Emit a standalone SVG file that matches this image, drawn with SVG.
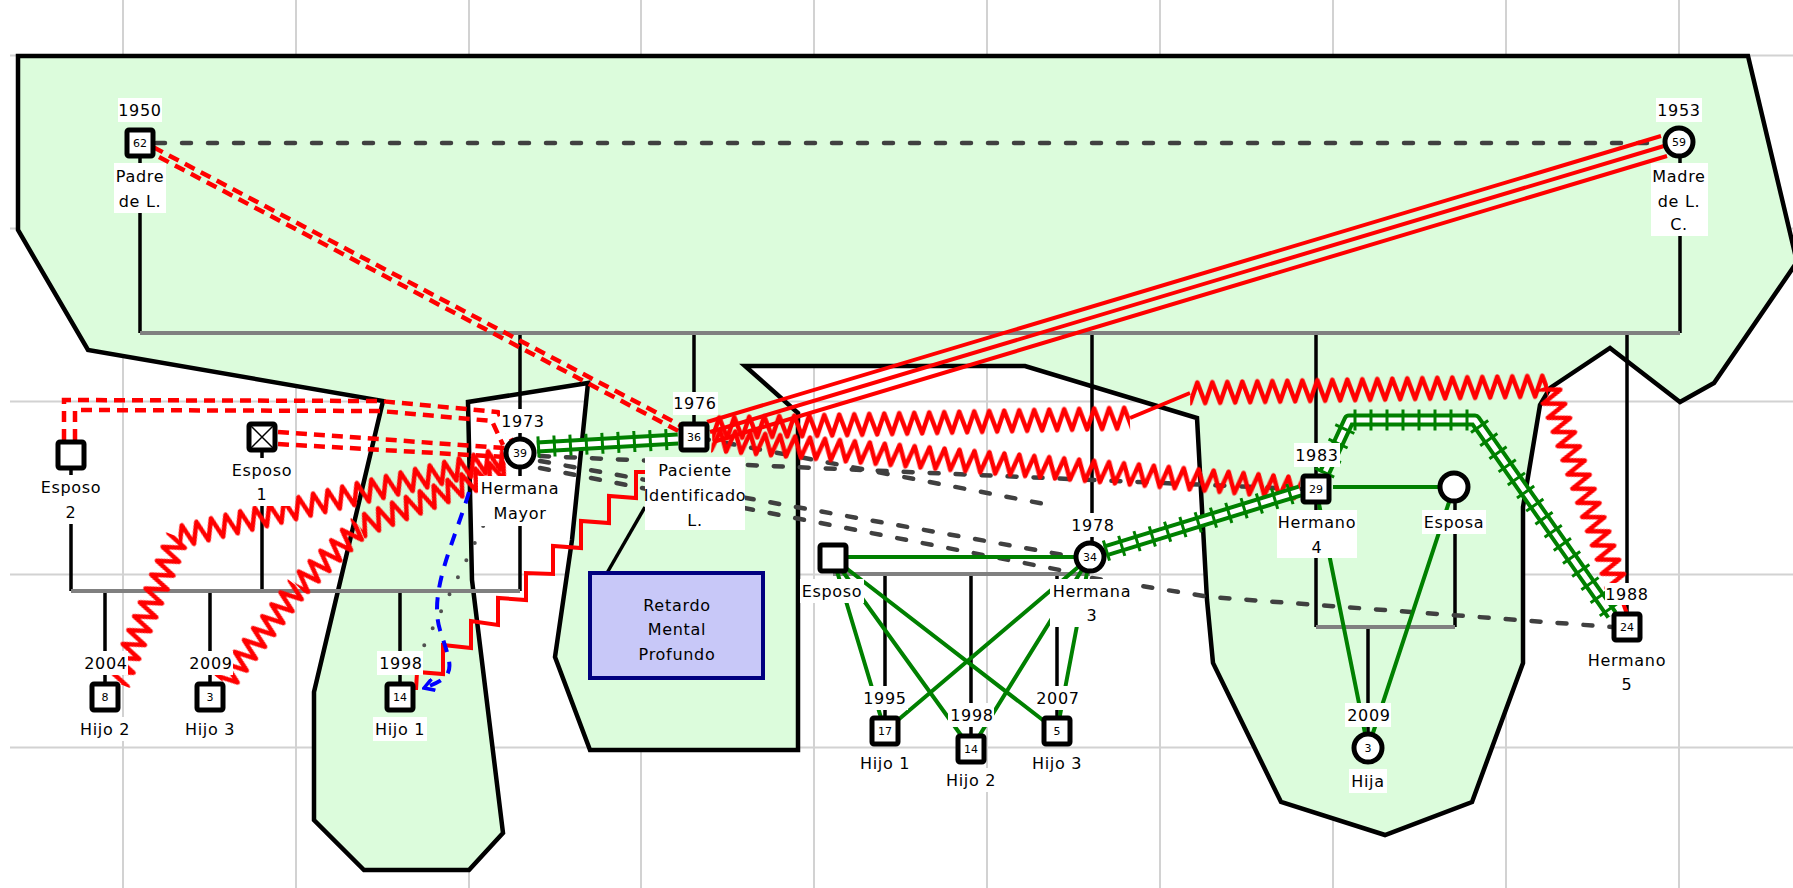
<svg xmlns="http://www.w3.org/2000/svg" width="1793" height="888" viewBox="0 0 1793 888">
<style>
.grid line{stroke:#d2d2d2;stroke-width:2}
.region{fill:#dcfcdc;stroke:#000;stroke-width:4.5;stroke-linejoin:miter}
.fam{stroke:#000;stroke-width:3.5;fill:none}
.sib{stroke:#808080;stroke-width:4;fill:none}
.gd{stroke:#404040;stroke-width:4.5;stroke-dasharray:9 17;stroke-linecap:round;fill:none}
.dot{stroke:#505050;stroke-width:4;stroke-dasharray:0 19;stroke-linecap:round;fill:none}
.rd{stroke:#f00;stroke-width:4.5;stroke-dasharray:11 7;fill:none}
.rs{stroke:#f00;stroke-width:4;fill:none}
.zz{fill:url(#zz)}
.gl{stroke:#008000;stroke-width:4;fill:none}
.g2{stroke:#008000;stroke-width:13;fill:none;stroke-linejoin:round}
.g2w{stroke:#fff;stroke-width:5;fill:none;stroke-linejoin:round}
.g2t{stroke:#008000;stroke-width:21;stroke-dasharray:3 13;fill:none}
.bl{stroke:#00f;stroke-width:4;stroke-dasharray:12 10;fill:none}
.sq,.ci{fill:#fff;stroke:#000;stroke-width:5}
.bg{fill:#fff}
.t{font-family:"DejaVu Sans",sans-serif;font-size:16px;letter-spacing:.7px;text-anchor:middle;fill:#000}
.a{font-family:"DejaVu Sans",sans-serif;font-size:11px;text-anchor:middle;fill:#000}
</style>
<defs>
<pattern id="zz" patternUnits="userSpaceOnUse" x="0" y="-14" width="15" height="28"><path d="M-7.5,3.5 L0,24.5 L7.5,3.5 L15,24.5 L22.5,3.5" fill="none" stroke="#f00" stroke-width="4.5" stroke-linejoin="round"/></pattern>
<marker id="arr" viewBox="0 0 14 14" markerWidth="14" markerHeight="14" refX="12" refY="7" orient="auto" markerUnits="userSpaceOnUse"><path d="M2,1 L12,7 L2,13" fill="none" stroke="#00f" stroke-width="3.5"/></marker>
</defs>
<rect width="1793" height="888" fill="#fff"/>
<g class="grid">
<line x1="123" y1="0" x2="123" y2="888"/><line x1="296" y1="0" x2="296" y2="888"/><line x1="469" y1="0" x2="469" y2="888"/><line x1="641" y1="0" x2="641" y2="888"/><line x1="814" y1="0" x2="814" y2="888"/><line x1="987" y1="0" x2="987" y2="888"/><line x1="1160" y1="0" x2="1160" y2="888"/><line x1="1333" y1="0" x2="1333" y2="888"/><line x1="1506" y1="0" x2="1506" y2="888"/><line x1="1679" y1="0" x2="1679" y2="888"/>
<line x1="10" y1="55.5" x2="1793" y2="55.5"/><line x1="10" y1="228.5" x2="1793" y2="228.5"/><line x1="10" y1="401.5" x2="1793" y2="401.5"/><line x1="10" y1="574.5" x2="1793" y2="574.5"/><line x1="10" y1="747.5" x2="1793" y2="747.5"/>
</g>
<g id="region">
<polygon class="region" points="18,56 1748,56 1797,262 1714,383 1680,402 1610,348 1550,388 1540,405 1523,507 1523,663 1472,802 1385,835 1281,802 1213,663 1207,600 1197,418 1025,366 745,366 798,413 798,750 590,750 555,657 572,540 588,383 468,402 472,580 503,833 469,870 364,870 314,820 314,692 383,401 88,350 18,230"/>
</g>
<g id="connectors">
<g id="family-lines">
<path class="fam" d="M140,156V333M1680,156V333M520,333V439M694,333V424M1092,333V543M1316,333V476M1627,333V614"/>
<path class="sib" d="M140,333H1680"/>
<path class="fam" d="M71,468V591M262,450V591M520,467V591M105,591V684M210,591V684M400,591V684"/>
<path class="sib" d="M71,591H520"/>
<path class="fam" d="M885,574V718M971,574V736M1057,574V718"/>
<path class="sib" d="M833,574H1090"/>
<path class="fam" d="M1316,502V627M1455,501V627M1368,627V734"/>
<path class="sib" d="M1316,627H1455"/>
<path class="fam" stroke-width="3" d="M607,573L645,507"/>
</g>
<g id="distant">
<path class="gd" d="M156,143H1664"/>
<path class="gd" d="M540,456L1300,489"/>
<path class="gd" d="M700,438L1055,506"/>
<path class="gd" d="M540,461L1075,557"/>
<path class="gd" d="M540,468L1070,572"/>
<path class="gd" d="M1092,578L1210,597L1612,627"/>
<path class="dot" d="M500,492L417,660"/>
</g>
<g id="close">
<path class="gl" d="M848,557H1076M1333,487H1440"/>
<path class="gl" d="M833,558L885,731M833,558L971,749M833,558L1057,731M1090,557L885,731M1090,557L971,749M1090,557L1057,731M1316,489L1368,748M1454,487L1368,748"/>
</g>
<g id="hostile">
<path class="rd" d="M153,147L680,425M159,157L686,435"/>
<path class="rd" d="M64,440V400L380,401L498,412L512,441M75,440V410L380,411L492,421L503,445"/>
<path class="rd" d="M278,432L505,448M278,444L505,457"/>
<path class="rs" d="M1661,136L707,422M1664,146L710,432M1667,156L713,442"/>
<rect class="zz" x="0" y="-14" width="418" height="28" transform="translate(712 428) rotate(-1.37)"/>
<path class="rs" d="M1130,418L1190,393"/>
<rect class="zz" x="0" y="-14" width="358" height="28" transform="translate(1190 393) rotate(-1.12)"/>
<rect class="zz" x="0" y="-14" width="226" height="28" transform="translate(1548 386) rotate(70.93)"/>
<path class="rs" d="M1622,600L1627,614"/>
<rect class="zz" x="0" y="-14" width="590" height="28" transform="translate(712 440) rotate(4.67)"/>
<rect class="zz" x="0" y="-14" width="336" height="28" transform="translate(505 458) rotate(166.42)"/>
<rect class="zz" x="0" y="-14" width="158" height="28" transform="translate(178 537) rotate(112.34)"/>
<rect class="zz" x="0" y="-14" width="159" height="28" transform="translate(507 467) rotate(157.8)"/>
<rect class="zz" x="0" y="-14" width="86" height="28" transform="translate(360 527) rotate(135.94)"/>
<rect class="zz" x="0" y="-14" width="121" height="28" transform="translate(298 587) rotate(127.62)"/>
<polyline class="rs" points="416,690 417,672 443,674 443,645 471,648 471,621 498,625 498,598 526,600 526,573 553,574 553,546 581,548 581,521 609,523 609,496 636,498 636,472 660,472"/>
</g>
<g id="very-close">
<path class="g2" d="M537,447L678,439"/><path class="g2w" d="M537,447L678,439"/><path class="g2t" d="M537,447L678,439"/>
<path class="g2" d="M1105,551L1300,491"/><path class="g2w" d="M1105,551L1300,491"/><path class="g2t" d="M1105,551L1300,491"/>
<path class="g2" d="M1324,474L1349,420L1475,420L1612,615"/><path class="g2w" d="M1324,474L1349,420L1475,420L1612,615"/><path class="g2t" d="M1324,474L1349,420L1475,420L1612,615"/>
</g>
<path id="focused" class="bl" d="M469,492C455,540 428,592 440,630S458,676 424,688" marker-end="url(#arr)"/>
</g>
<g id="retardo">
<rect x="590" y="573" width="173" height="105" fill="#c8c8f8" stroke="#00007f" stroke-width="4"/>
<text class="t" x="677" y="611">Retardo</text><text class="t" x="677" y="635">Mental</text><text class="t" x="677" y="660">Profundo</text>
</g>
<g id="padre"><rect class="sq" x="127" y="130" width="26" height="26" rx="2"/><text class="a" x="140" y="147">62</text><rect class="bg" x="118" y="98" width="44" height="24"/><text class="t" x="140" y="116">1950</text><rect class="bg" x="114" y="163" width="52" height="50"/><text class="t" x="140" y="182">Padre</text><text class="t" x="140" y="207">de L.</text></g>
<g id="madre"><circle class="ci" cx="1679" cy="142" r="14"/><text class="a" x="1679" y="146">59</text><rect class="bg" x="1656" y="98" width="46" height="24"/><text class="t" x="1679" y="116">1953</text><rect class="bg" x="1651" y="163" width="57" height="73"/><text class="t" x="1679" y="182">Madre</text><text class="t" x="1679" y="207">de L.</text><text class="t" x="1679" y="230">C.</text></g>
<g id="hermana-mayor"><circle class="ci" cx="520" cy="453" r="14"/><text class="a" x="520" y="457">39</text><rect class="bg" x="500" y="409" width="46" height="24"/><text class="t" x="523" y="427">1973</text><rect class="bg" x="478" y="476" width="84" height="50"/><text class="t" x="520" y="494">Hermana</text><text class="t" x="520" y="519">Mayor</text></g>
<g id="paciente"><rect class="sq" x="681" y="424" width="26" height="26" rx="2"/><text class="a" x="694" y="441">36</text><rect class="bg" x="673" y="392" width="45" height="23"/><text class="t" x="695" y="409">1976</text><rect class="bg" x="645" y="457" width="100" height="73"/><text class="t" x="695" y="476">Paciente</text><text class="t" x="695" y="501">Identificado</text><text class="t" x="695" y="526">L.</text></g>
<g id="hermana-3"><circle class="ci" cx="1090" cy="557" r="14"/><text class="a" x="1090" y="561">34</text><rect class="bg" x="1070" y="513" width="46" height="24"/><text class="t" x="1093" y="531">1978</text><rect class="bg" x="1050" y="579" width="84" height="48"/><text class="t" x="1092" y="597">Hermana</text><text class="t" x="1092" y="621">3</text></g>
<g id="hermano-4"><rect class="sq" x="1303" y="476" width="26" height="26" rx="2"/><text class="a" x="1316" y="493">29</text><rect class="bg" x="1294" y="443" width="46" height="24"/><text class="t" x="1317" y="461">1983</text><rect class="bg" x="1277" y="510" width="80" height="48"/><text class="t" x="1317" y="528">Hermano</text><text class="t" x="1317" y="553">4</text></g>
<g id="hermano-5"><rect class="sq" x="1614" y="614" width="26" height="26" rx="2"/><text class="a" x="1627" y="631">24</text><rect class="bg" x="1605" y="583" width="45" height="22"/><text class="t" x="1627" y="600">1988</text><rect class="bg" x="1587" y="648" width="80" height="48"/><text class="t" x="1627" y="666">Hermano</text><text class="t" x="1627" y="690">5</text></g>
<g id="esposo-2"><rect class="sq" x="58" y="442" width="26" height="26" rx="2"/><rect class="bg" x="39" y="475" width="64" height="49"/><text class="t" x="71" y="493">Esposo</text><text class="t" x="71" y="518">2</text></g>
<g id="esposo-1"><rect class="sq" x="249" y="424" width="26" height="26" rx="2"/><path d="M251,426L273,448M273,426L251,448" stroke="#000" stroke-width="1.5"/><rect class="bg" x="230" y="458" width="64" height="48"/><text class="t" x="262" y="476">Esposo</text><text class="t" x="262" y="500">1</text></g>
<g id="hm-hijo-2"><rect class="sq" x="92" y="684" width="26" height="26" rx="2"/><text class="a" x="105" y="701">8</text><rect class="bg" x="82" y="651" width="46" height="24"/><text class="t" x="106" y="669">2004</text><rect class="bg" x="78" y="717" width="54" height="24"/><text class="t" x="105" y="735">Hijo 2</text></g>
<g id="hm-hijo-3"><rect class="sq" x="197" y="684" width="26" height="26" rx="2"/><text class="a" x="210" y="701">3</text><rect class="bg" x="187" y="651" width="46" height="24"/><text class="t" x="211" y="669">2009</text><rect class="bg" x="183" y="717" width="54" height="24"/><text class="t" x="210" y="735">Hijo 3</text></g>
<g id="hm-hijo-1"><rect class="sq" x="387" y="684" width="26" height="26" rx="2"/><text class="a" x="400" y="701">14</text><rect class="bg" x="377" y="651" width="46" height="24"/><text class="t" x="401" y="669">1998</text><rect class="bg" x="373" y="717" width="54" height="24"/><text class="t" x="400" y="735">Hijo 1</text></g>
<g id="esposo-h3"><rect class="sq" x="820" y="545" width="26" height="26" rx="2"/><rect class="bg" x="800" y="579" width="64" height="24"/><text class="t" x="832" y="597">Esposo</text></g>
<g id="h3-hijo-1"><rect class="sq" x="872" y="718" width="26" height="26" rx="2"/><text class="a" x="885" y="735">17</text><rect class="bg" x="862" y="686" width="46" height="24"/><text class="t" x="885" y="704">1995</text><rect class="bg" x="858" y="751" width="54" height="24"/><text class="t" x="885" y="769">Hijo 1</text></g>
<g id="h3-hijo-2"><rect class="sq" x="958" y="736" width="26" height="26" rx="2"/><text class="a" x="971" y="753">14</text><rect class="bg" x="948" y="703" width="46" height="24"/><text class="t" x="972" y="721">1998</text><rect class="bg" x="944" y="768" width="54" height="24"/><text class="t" x="971" y="786">Hijo 2</text></g>
<g id="h3-hijo-3"><rect class="sq" x="1044" y="718" width="26" height="26" rx="2"/><text class="a" x="1057" y="735">5</text><rect class="bg" x="1034" y="686" width="46" height="24"/><text class="t" x="1058" y="704">2007</text><rect class="bg" x="1030" y="751" width="54" height="24"/><text class="t" x="1057" y="769">Hijo 3</text></g>
<g id="esposa"><circle class="ci" cx="1454" cy="487" r="14"/><rect class="bg" x="1422" y="510" width="64" height="24"/><text class="t" x="1454" y="528">Esposa</text></g>
<g id="hija"><circle class="ci" cx="1368" cy="748" r="14"/><text class="a" x="1368" y="752">3</text><rect class="bg" x="1345" y="703" width="46" height="24"/><text class="t" x="1369" y="721">2009</text><rect class="bg" x="1349" y="769" width="38" height="24"/><text class="t" x="1368" y="787">Hija</text></g>
</svg>
